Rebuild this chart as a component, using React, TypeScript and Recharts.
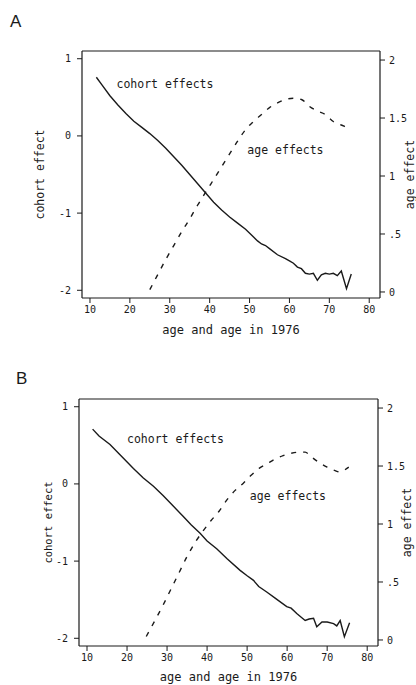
import React from 'react';
import { ComposedChart, Line, XAxis, YAxis, ReferenceDot } from 'recharts';

// ---------- data ----------
const xTicks = [10, 20, 30, 40, 50, 60, 70, 80];
const cohortTicks = [-2, -1, 0, 1];
const ageTicks = [0, 0.5, 1, 1.5, 2];
const ageTickLabels = ['0', '.5', '1', '1.5', '2'];

const panelLetters = ['A', 'B'];
const xTitle = 'age and age in 1976';
const leftTitle = 'cohort effect';
const rightTitle = 'age effect';
const cohortLabel = 'cohort effects';
const ageLabel = 'age effects';

// Panel A
const cohortAgesA = [11.6, 13, 15, 17, 19, 21, 23, 25, 27, 29, 31, 33, 35, 37, 39, 41, 43, 45, 47, 49, 51, 52, 53, 54, 55, 57, 59, 60, 61, 62, 63, 64, 65, 66, 67, 68, 69, 70, 71, 72, 73, 74.3, 75.5];
const cohortValuesA = [0.76, 0.66, 0.52, 0.40, 0.29, 0.19, 0.11, 0.03, -0.06, -0.16, -0.27, -0.38, -0.50, -0.62, -0.74, -0.86, -0.96, -1.05, -1.13, -1.21, -1.31, -1.36, -1.40, -1.42, -1.46, -1.54, -1.59, -1.62, -1.65, -1.70, -1.72, -1.78, -1.79, -1.78, -1.87, -1.80, -1.78, -1.79, -1.78, -1.81, -1.75, -1.98, -1.79];
const ageAgesA = [25, 27, 29, 31, 33, 35, 37, 39, 41, 43, 45, 47, 49, 51, 53, 55, 57, 59, 61, 63, 65, 67, 69, 71, 73, 75];
const ageValuesA = [0.02, 0.15, 0.28, 0.40, 0.52, 0.63, 0.75, 0.86, 0.97, 1.08, 1.19, 1.30, 1.40, 1.47, 1.53, 1.59, 1.63, 1.66, 1.67, 1.66, 1.60, 1.56, 1.53, 1.47, 1.44, 1.41];
const labelPosA = { cohortAge: 28.8, cohortVal: 0.67, ageAge: 59, ageVal: -0.18 };

// Panel B
const cohortAgesB = [11.4, 13, 15.75, 18, 21.6, 24, 26.6, 29, 31.6, 34, 36, 38.25, 40, 42.4, 45, 48.25, 50, 51.6, 52.9, 54.9, 57, 59.9, 61, 62.4, 64.5, 65.5, 66.6, 67.4, 68.7, 70, 71.6, 72.4, 73.25, 74.3, 75.6];
const cohortValuesB = [0.71, 0.62, 0.51, 0.39, 0.20, 0.08, -0.03, -0.15, -0.29, -0.42, -0.53, -0.64, -0.74, -0.84, -0.97, -1.12, -1.19, -1.25, -1.33, -1.40, -1.48, -1.59, -1.61, -1.68, -1.77, -1.75, -1.74, -1.85, -1.79, -1.79, -1.81, -1.84, -1.77, -1.98, -1.80];
const ageAgesB = [24.8, 27, 29, 31, 33, 35, 37, 39, 41, 43, 45, 47, 49, 51, 53, 55, 57, 59, 61, 63, 64.5, 66, 68, 70, 72, 73, 75.4];
const ageValuesB = [0.03, 0.17, 0.30, 0.44, 0.58, 0.72, 0.84, 0.94, 1.03, 1.11, 1.21, 1.29, 1.35, 1.42, 1.48, 1.52, 1.56, 1.59, 1.61, 1.62, 1.62, 1.58, 1.53, 1.49, 1.46, 1.45, 1.49];
const labelPosB = { cohortAge: 32.1, cohortVal: 0.58, ageAge: 60.2, ageVal: -0.16 };

// ---------- helpers ----------
const toSeries = (ages: number[], values: number[]) =>
  ages.map((age, i) => ({ age, value: values[i] }));

const MONO = '"DejaVu Sans Mono", "Liberation Mono", monospace';
const INK = '#1a1a1a';

type PanelProps = {
  top: number;
  leftW: number;
  rightW: number;
  cohortAges: number[];
  cohortValues: number[];
  ageAges: number[];
  ageValues: number[];
  labelPos: { cohortAge: number; cohortVal: number; ageAge: number; ageVal: number };
  leftTitleDx: number;
  rightTitleDx: number;
  xTitleDy: number;
  leftTitleSize: number;
};

function Panel(p: PanelProps) {
  const cohortData = toSeries(p.cohortAges, p.cohortValues);
  const ageData = toSeries(p.ageAges, p.ageValues);
  const tickStyle = { fontSize: 10, fontFamily: MONO, fill: INK };
  const axisLine = { stroke: INK, strokeWidth: 1.2 };
  return (
    <div style={{ position: 'absolute', left: 0, top: p.top, width: 416, height: 340 }}>
      <ComposedChart width={416} height={340} margin={{ top: 41, right: 0, bottom: 0, left: 0 }}>
        <XAxis
          type="number"
          dataKey="age"
          domain={[8, 82.7]}
          ticks={xTicks}
          allowDataOverflow
          height={42}
          tickSize={5}
          tickMargin={3}
          tick={tickStyle}
          axisLine={axisLine}
          tickLine={{ stroke: INK }}
          label={{ value: xTitle, position: 'center', dy: p.xTitleDy, style: { fontSize: 12, fontFamily: MONO, fill: INK } }}
        />
        <XAxis
          xAxisId="top"
          orientation="top"
          type="number"
          domain={[8, 82.7]}
          ticks={xTicks}
          allowDataOverflow
          height={10}
          tickSize={5}
          tickFormatter={() => ''}
          axisLine={axisLine}
          tickLine={{ stroke: INK }}
        />
        <YAxis
          yAxisId="left"
          type="number"
          domain={[-2.1, 1.1]}
          ticks={cohortTicks}
          allowDataOverflow
          width={p.leftW}
          tickSize={5}
          tickMargin={6}
          tick={tickStyle}
          axisLine={axisLine}
          tickLine={{ stroke: INK }}
          label={{ value: leftTitle, angle: -90, position: 'center', dx: p.leftTitleDx, style: { fontSize: p.leftTitleSize, fontFamily: MONO, fill: INK } }}
        />
        <YAxis
          yAxisId="right"
          orientation="right"
          type="number"
          domain={[-0.052, 2.078]}
          ticks={ageTicks}
          allowDataOverflow
          width={p.rightW}
          tickSize={5}
          tickMargin={4}
          tick={tickStyle}
          tickFormatter={(v: number) => ageTickLabels[ageTicks.indexOf(v)] ?? String(v)}
          axisLine={axisLine}
          tickLine={{ stroke: INK }}
          label={{ value: rightTitle, angle: -90, position: 'center', dx: p.rightTitleDx, style: { fontSize: 11.5, fontFamily: MONO, fill: INK } }}
        />
        <Line
          data={cohortData}
          dataKey="value"
          yAxisId="left"
          type="linear"
          stroke={INK}
          strokeWidth={1.4}
          dot={false}
          isAnimationActive={false}
        />
        <Line
          data={ageData}
          dataKey="value"
          yAxisId="right"
          type="monotone"
          stroke={INK}
          strokeWidth={1.4}
          strokeDasharray="5 7"
          dot={false}
          isAnimationActive={false}
        />
        <ReferenceDot
          x={p.labelPos.cohortAge}
          y={p.labelPos.cohortVal}
          yAxisId="left"
          r={0}
          fill="none"
          stroke="none"
          label={{ value: cohortLabel, position: 'center', style: { fontSize: 11.5, fontFamily: MONO, fill: INK } }}
        />
        <ReferenceDot
          x={p.labelPos.ageAge}
          y={p.labelPos.ageVal}
          yAxisId="left"
          r={0}
          fill="none"
          stroke="none"
          label={{ value: ageLabel, position: 'center', style: { fontSize: 11.5, fontFamily: MONO, fill: INK } }}
        />
      </ComposedChart>
    </div>
  );
}

export default function App() {
  const letterStyle: React.CSSProperties = {
    position: 'absolute',
    fontFamily: '"Liberation Sans", Arial, sans-serif',
    fontSize: 17,
    color: INK,
    lineHeight: '17px',
  };
  return (
    <div style={{ position: 'absolute', left: 0, top: 0, width: 416, height: 685, background: '#fff', overflow: 'hidden' }}>
      <div style={{ ...letterStyle, left: 10, top: 13 }}>{panelLetters[0]}</div>
      <div style={{ ...letterStyle, left: 16, top: 370 }}>{panelLetters[1]}</div>
      <Panel
        top={0}
        leftW={82}
        rightW={36}
        cohortAges={cohortAgesA}
        cohortValues={cohortValuesA}
        ageAges={ageAgesA}
        ageValues={ageValuesA}
        labelPos={labelPosA}
        leftTitleDx={-1}
        rightTitleDx={12}
        xTitleDy={11}
        leftTitleSize={11.5}
      />
      <Panel
        top={348}
        leftW={79}
        rightW={38}
        cohortAges={cohortAgesB}
        cohortValues={cohortValuesB}
        ageAges={ageAgesB}
        ageValues={ageValuesB}
        labelPos={labelPosB}
        leftTitleDx={9}
        rightTitleDx={10}
        xTitleDy={10}
        leftTitleSize={10.5}
      />
    </div>
  );
}
